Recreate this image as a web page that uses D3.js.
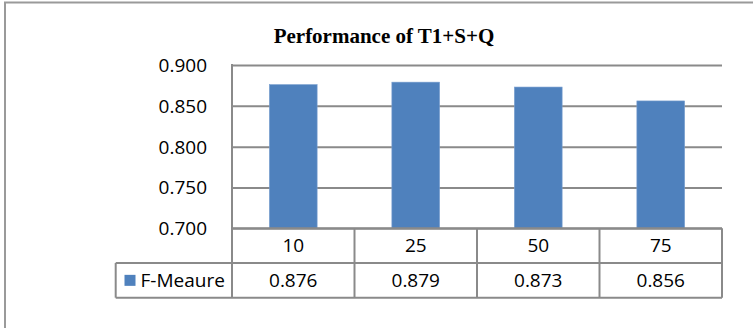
<!DOCTYPE html>
<html>
<head>
<meta charset="utf-8">
<script src="https://cdn.jsdelivr.net/npm/d3@7"></script>
<style>
  html, body { margin: 0; padding: 0; background: #fff; }
  svg { display: block; }
  .tick text, .cell-text { font-family: "Open Sans", "Noto Sans", sans-serif; fill: #000; }
</style>
</head>
<body>
<svg id="chart" width="753" height="328"></svg>
<script>
// Data
const categories = ["10", "25", "50", "75"];
const fMeasure = [0.876, 0.879, 0.873, 0.856];
const seriesName = "F-Meaure";
const yTicks = [0.700, 0.750, 0.800, 0.850, 0.900];
const title = "Performance of T1+S+Q";

const svg = d3.select("#chart");
const W = 753, H = 328;

const plot = { left: 232, right: 722, top: 65, bottom: 228.3 };
const rowH = 34.7;
const legendLeft = 115.7;
const gridColor = "#8a8a8a";
const barColor = "#4f81bd";

// Outer chart frame
svg.append("rect")
  .attr("x", 5).attr("y", 2.5)
  .attr("width", W + 20).attr("height", H + 20)
  .attr("fill", "none")
  .attr("stroke", "#9a9a9a")
  .attr("stroke-width", 2);

const x = d3.scaleBand().domain(categories).range([plot.left, plot.right]).padding(0);
const y = d3.scaleLinear().domain([0.7, 0.9]).range([plot.bottom, plot.top]);

// Gridlines and tick labels
const yAxis = d3.axisLeft(y)
  .tickValues(yTicks)
  .tickFormat(d3.format(".3f"))
  .tickSize(-(plot.right - plot.left))
  .tickPadding(25);

const gy = svg.append("g")
  .attr("transform", `translate(${plot.left},0)`)
  .call(yAxis);
gy.select(".domain").remove();
gy.selectAll(".tick line").attr("stroke", gridColor).attr("stroke-width", 2);
gy.selectAll(".tick text").attr("font-size", 19).attr("dy", "0.34em");

// Bars
const barFrac = 0.39;
svg.append("g").selectAll("rect")
  .data(categories.map((c, i) => ({ c, v: fMeasure[i] })))
  .join("rect")
  .attr("x", d => x(d.c) + x.bandwidth() * (1 - barFrac) / 2)
  .attr("width", x.bandwidth() * barFrac)
  .attr("y", d => y(d.v))
  .attr("height", d => y(0.7) - y(d.v))
  .attr("fill", barColor)
  .attr("stroke", "#7a9fd0")
  .attr("stroke-width", 0.6);

// Data table beneath the plot
const row1Top = y(0.7), row2Top = row1Top + rowH, row2Bottom = row2Top + rowH;
const tbl = svg.append("g").attr("stroke", gridColor).attr("stroke-width", 2).attr("fill", "none");

// axis line running down through the table
tbl.append("line").attr("x1", plot.left).attr("x2", plot.left).attr("y1", plot.top - 1).attr("y2", row2Bottom);
// horizontal rules
tbl.append("line").attr("x1", plot.left).attr("x2", plot.right).attr("y1", row1Top).attr("y2", row1Top);
tbl.append("line").attr("x1", legendLeft).attr("x2", plot.right).attr("y1", row2Top).attr("y2", row2Top);
tbl.append("line").attr("x1", legendLeft).attr("x2", plot.right).attr("y1", row2Bottom).attr("y2", row2Bottom);
// vertical rules
tbl.append("line").attr("x1", legendLeft).attr("x2", legendLeft).attr("y1", row2Top).attr("y2", row2Bottom);
categories.forEach(c => {
  const xr = x(c) + x.bandwidth();
  tbl.append("line").attr("x1", xr).attr("x2", xr).attr("y1", row1Top).attr("y2", row2Bottom);
});

const txt = svg.append("g");
categories.forEach((c, i) => {
  const cx = x(c) + x.bandwidth() / 2;
  txt.append("text").attr("class", "cell-text")
    .attr("x", cx).attr("y", (row1Top + row2Top) / 2).attr("dy", "0.36em")
    .attr("text-anchor", "middle").attr("font-size", 19).text(c);
  txt.append("text").attr("class", "cell-text")
    .attr("x", cx).attr("y", (row2Top + row2Bottom) / 2).attr("dy", "0.36em")
    .attr("text-anchor", "middle").attr("font-size", 19).text(d3.format(".3f")(fMeasure[i]));
});

// Legend key in the table
const midRow2 = (row2Top + row2Bottom) / 2;
txt.append("rect").attr("x", 124.5).attr("y", midRow2 - 5.5).attr("width", 11).attr("height", 11).attr("fill", barColor);
txt.append("text").attr("class", "cell-text")
  .attr("x", 140.5).attr("y", midRow2).attr("dy", "0.36em")
  .attr("font-size", 19).text(seriesName);

// Title
svg.append("text")
  .attr("x", 384).attr("y", 42.7)
  .attr("text-anchor", "middle")
  .attr("font-family", "'Liberation Serif', 'Times New Roman', serif")
  .attr("font-weight", "bold")
  .attr("font-size", 21)
  .text(title);
</script>
</body>
</html>
